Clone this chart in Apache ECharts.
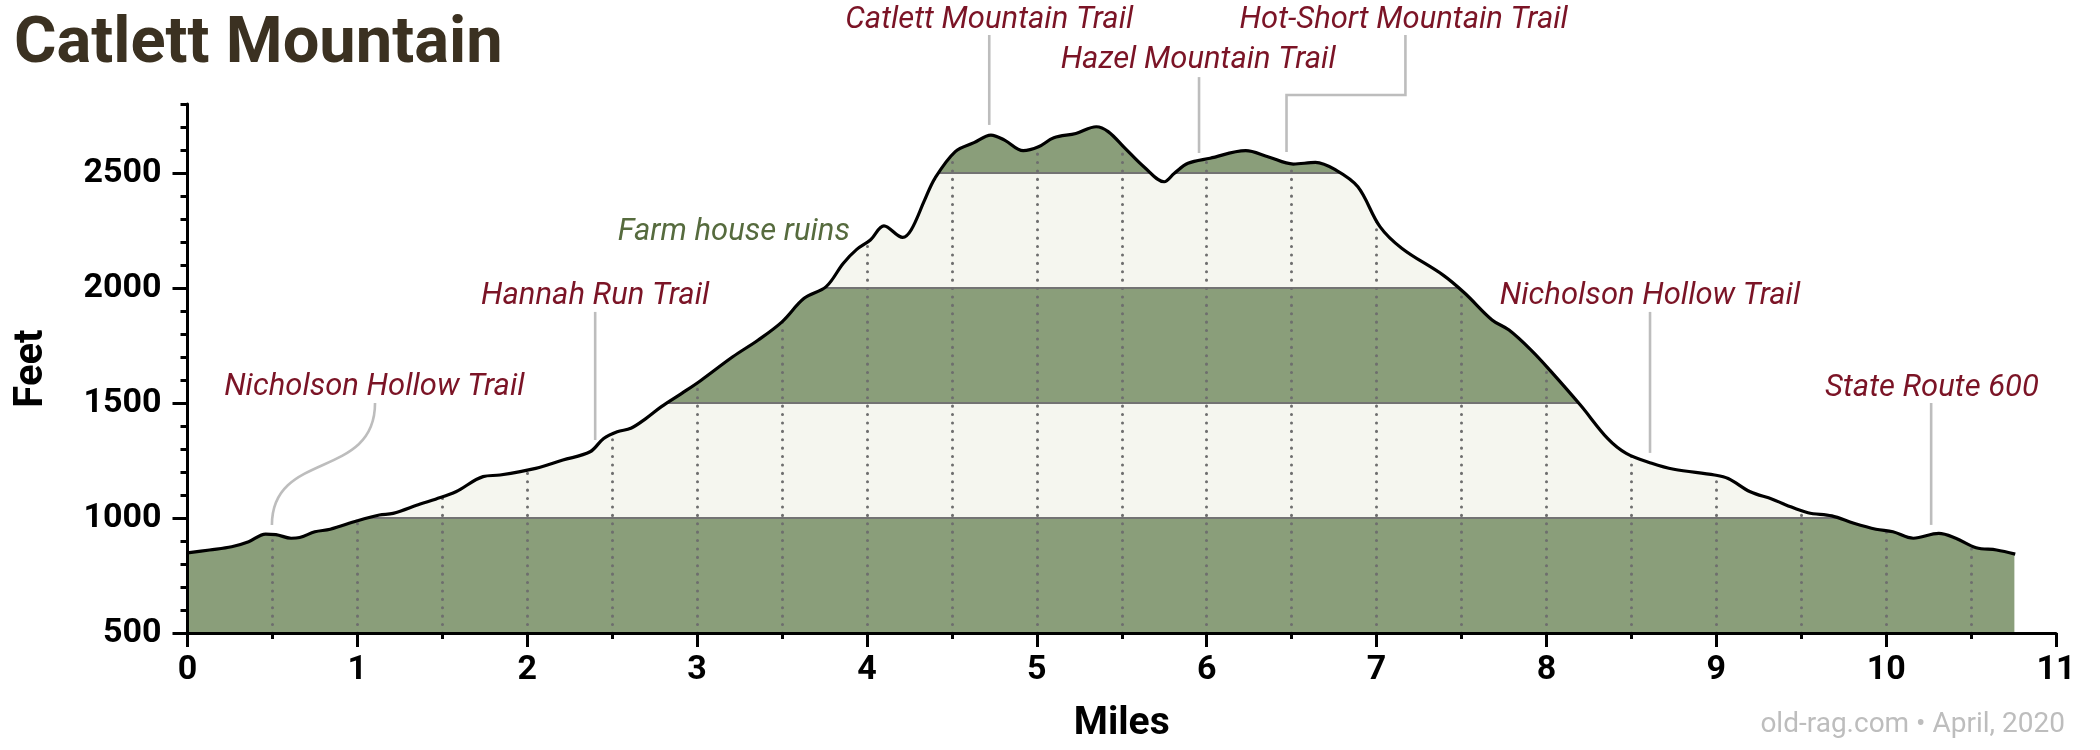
<!DOCTYPE html>
<html><head><meta charset="utf-8">
<script src="https://cdn.jsdelivr.net/npm/echarts@6/dist/echarts.min.js"></script>
<style>html,body{margin:0;padding:0;background:#fff}#c{width:2100px;height:750px}</style>
</head><body><div id="c"></div>
<script>
// ---- data ----
const miles = [0.00,0.13,0.26,0.36,0.46,0.52,0.61,0.66,0.75,0.84,1.00,1.13,1.21,1.37,1.46,1.58,1.74,1.84,2.05,2.21,2.37,2.45,2.53,2.61,2.70,2.79,2.91,3.02,3.21,3.36,3.50,3.63,3.76,3.86,3.94,4.02,4.10,4.21,4.26,4.34,4.40,4.52,4.63,4.73,4.81,4.92,5.01,5.10,5.23,5.35,5.42,5.52,5.63,5.75,5.81,5.89,6.02,6.23,6.36,6.51,6.64,6.76,6.89,7.02,7.15,7.39,7.52,7.68,7.78,7.91,8.02,8.20,8.36,8.47,8.62,8.75,8.99,9.07,9.20,9.33,9.41,9.54,9.68,9.81,9.94,10.04,10.16,10.31,10.41,10.53,10.65,10.76];
const feet  = [848,861,875,897,930,928,912,915,940,951,988,1013,1020,1061,1082,1114,1180,1187,1216,1252,1288,1346,1375,1390,1433,1484,1542,1597,1701,1774,1853,1955,2006,2107,2168,2209,2270,2220,2252,2383,2477,2593,2632,2665,2643,2597,2614,2653,2672,2701,2680,2607,2527,2462,2499,2542,2564,2597,2571,2539,2546,2513,2440,2267,2172,2057,1977,1861,1817,1730,1643,1491,1346,1281,1238,1212,1187,1172,1114,1082,1057,1023,1009,977,951,940,912,933,912,871,861,843];
const xTickLabels = ['0','1','2','3','4','5','6','7','8','9','10','11'];
const yTickLabels = [500, 1000, 1500, 2000, 2500];
const bandEdges = [500, 1000, 1500, 2000, 2500, 2800];
const markerMiles = [0.5,1,1.5,2,2.5,3,3.5,4,4.5,5,5.5,6,6.5,7,7.5,8,8.5,9,9.5,10,10.5];
const noteNames = ['Catlett Mountain Trail','Hazel Mountain Trail','Hot-Short Mountain Trail','Farm house ruins','Hannah Run Trail','Nicholson Hollow Trail','Nicholson Hollow Trail','State Route 600'];
const noteMiles = [4.72, 5.955, 6.47, 4.0, 2.40, 0.50, 8.61, 10.265];
const titleText = 'Catlett Mountain';
const creditText = 'old-rag.com \u2022 April, 2020';

// ---- layout (label placement in data units) ----
const noteLayout = [
  {at:[4.72,3165],  path:[[4.72,3100],[4.72,2709]]},
  {at:[5.95,2991],  path:[[5.955,2917],[5.955,2587]]},
  {at:[7.16,3165],  path:[[7.17,3100],[7.17,2839],[6.47,2839],[6.47,2591]]},
  {at:[3.90,2243],  path:[], align:'right', color:'#566b3e'},
  {at:[2.40,1965],  path:[[2.40,1896],[2.40,1339]]},
  {at:[1.10,1567],  path:[[1.104,1500],[1.104,1165],[0.497,1296],[0.497,970]], curve:true},
  {at:[8.61,1965],  path:[[8.61,1896],[8.61,1283]]},
  {at:[10.27,1563], path:[[10.265,1500],[10.265,970]]}
];

const GREEN = '#8a9e7a', LIGHT = '#f5f6ef', RED = '#7b1426';
const yMin = bandEdges[0], yMax = bandEdges[bandEdges.length-1];
const lastMile = miles[miles.length-1];
const bandEnd = lastMile - 0.005; // keep band edge just inside the profile's end
const profile = miles.map((m,i)=>[m, feet[i]]);
const minorY = [];
for (let v = yMin; v <= yMax; v += 100) minorY.push(v);

const bandAreas = [];
for (let i = 0; i < bandEdges.length-1; i++) {
  bandAreas.push([{coord:[0,bandEdges[i]], itemStyle:{color: i%2===0?GREEN:LIGHT}}, {coord:[bandEnd,bandEdges[i+1]]}]);
}
const lines = [];
for (let i = 1; i < bandEdges.length-1; i++) {
  lines.push([{coord:[0,bandEdges[i]], lineStyle:{color:'#737373', width:2, type:'solid'}}, {coord:[bandEnd,bandEdges[i]]}]);
}
markerMiles.forEach(m => {
  lines.push([{coord:[m,yMin], lineStyle:{color:'#6e6e6e', width:3, type:[0.1,8.3], cap:'round'}}, {coord:[m,yMax]}]);
});

const FONT = 'Roboto';
const chart = echarts.init(document.getElementById('c'));
chart.setOption({
  animation:false,
  backgroundColor:'#fff',
  title:{text:titleText, left:14, top:13, padding:0, textStyle:{fontFamily:FONT, fontWeight:'bold', fontSize:65, color:'#3b3121'}},
  grid:{left:187.5, right:44, top:104, bottom:117},
  xAxis:{type:'value', min:0, max:11, interval:1, z:10,
    axisLine:{lineStyle:{color:'#000', width:3}},
    axisTick:{length:14, lineStyle:{color:'#000', width:3}},
    minorTick:{show:true, splitNumber:2, length:6, lineStyle:{color:'#000', width:3}},
    splitLine:{show:false}, minorSplitLine:{show:false},
    axisLabel:{fontFamily:FONT, fontWeight:'bold', fontSize:34, color:'#000', margin:20, formatter:(v)=>xTickLabels[Math.round(v)]},
    name:'Miles', nameLocation:'middle', nameGap:72,
    nameTextStyle:{fontFamily:FONT, fontWeight:'bold', fontSize:39, color:'#000'}},
  yAxis:[
    {type:'value', min:yMin, max:yMax, interval:500, position:'left', z:10,
      axisLine:{show:true, lineStyle:{color:'#000', width:3}},
      axisTick:{show:true, length:15, customValues:yTickLabels, lineStyle:{color:'#000', width:3}},
      axisLabel:{customValues:yTickLabels, fontFamily:FONT, fontWeight:'bold', fontSize:34, color:'#000', margin:26, formatter:(v)=>String(v)},
      splitLine:{show:false},
      name:'Feet', nameLocation:'middle', nameRotate:90, nameGap:136,
      nameTextStyle:{fontFamily:FONT, fontWeight:'bold', fontSize:40, color:'#000'}},
    {type:'value', min:yMin, max:yMax, position:'left', z:10,
      axisLine:{show:false},
      axisTick:{show:true, length:7, customValues:minorY, lineStyle:{color:'#000', width:3}},
      axisLabel:{show:false}, splitLine:{show:false}}
  ],
  series:[
    {type:'line', name:'profile', data:profile, smooth:0.35, symbol:'none', z:7,
      lineStyle:{color:'#000', width:3.2, join:'round'},
      areaStyle:{color:'#fff', opacity:1, origin:'end'}, silent:true},
    {type:'line', name:'bands', data:[[0,yMin]], symbol:'none', z:1, lineStyle:{opacity:0}, silent:true,
      markArea:{silent:true, data:bandAreas},
      markLine:{silent:true, symbol:'none', label:{show:false}, data:lines}},
    {type:'custom', name:'notes', z:8, clip:false, silent:true,
      data: noteLayout.map((n,i)=>[noteMiles[i], n.at[1]]),
      encode:{x:0, y:1},
      renderItem:function(params, api){
        const n = noteLayout[params.dataIndex];
        const pts = n.path.map(p => api.coord(p));
        const children = [];
        const ls = {stroke:'#bdbdbd', lineWidth:2.6, fill:'none'};
        if (n.curve) {
          children.push({type:'bezierCurve', shape:{x1:pts[0][0], y1:pts[0][1], cpx1:pts[1][0], cpy1:pts[1][1], cpx2:pts[2][0], cpy2:pts[2][1], x2:pts[3][0], y2:pts[3][1]}, style:ls});
        } else if (pts.length) {
          children.push({type:'polyline', shape:{points:pts}, style:ls});
        }
        const t = api.coord(n.at);
        children.push({type:'text', x:t[0], y:t[1], style:{text:noteNames[params.dataIndex], fill:n.color||RED, font:'italic 31px Roboto', align:n.align||'center', verticalAlign:'middle'}});
        return {type:'group', children:children};
      }}
  ],
  graphic:[
    {type:'text', right:35, top:711, style:{text:creditText, font:'28px Roboto', fill:'#bdbdbd'}}
  ]
});
</script>
</body></html>
